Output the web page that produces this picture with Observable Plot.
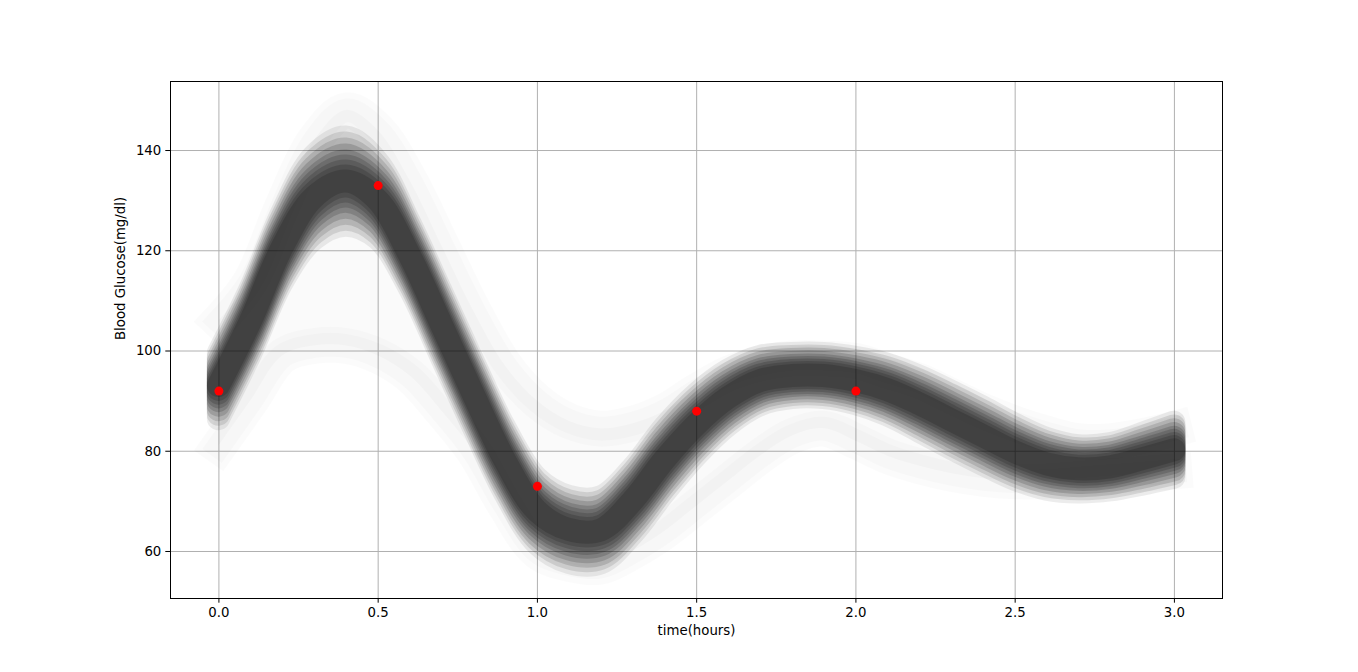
<!DOCTYPE html>
<html>
<head>
<meta charset="utf-8">
<script src="https://cdn.jsdelivr.net/npm/d3@7"></script>
<script src="https://cdn.jsdelivr.net/npm/@observablehq/plot@0.6"></script>
<style>html,body{margin:0;padding:0;background:#fff}</style>
</head>
<body>
<div id="chart"></div>
<script>
const hours = [0, 0.1, 0.2, 0.3, 0.4, 0.5, 0.6, 0.7, 0.8, 0.9, 1.0, 1.1, 1.2, 1.3, 1.4, 1.5, 1.6, 1.7, 1.8, 1.9, 2.0, 2.1, 2.2, 2.3, 2.4, 2.5, 2.6, 2.7, 2.8, 2.9, 3.0];
const meanGlucose = [93, 105.8, 120.6, 130.6, 133.8, 130, 119, 105.2, 91.3, 78, 68, 64.3, 64.2, 70, 78.2, 85.2, 90.6, 94, 95, 95, 94, 92.2, 89.4, 86.2, 83, 79.8, 77.4, 76.4, 76.8, 78.4, 80.2];
const spreadGlucose = [3, 3, 3.2, 3.8, 4, 3.5, 3, 3, 3, 3, 3, 3, 3, 3, 3, 2.8, 2.5, 2.2, 2, 2, 2.1, 2.3, 2.5, 2.6, 2.6, 2.5, 2.3, 2.1, 2.1, 2.3, 2.5];
const upperGlucose = [106, 114, 129, 142, 148, 144, 134, 121, 108, 97, 90, 86, 84.5, 85.5, 88, 92, 95.5, 97.5, 98.5, 98.5, 98, 96, 94, 91, 88, 85.5, 83.5, 82, 82, 83, 84.5];
const lowerGlucose = [81, 90, 99, 101, 101, 99, 95, 88, 80, 69, 60, 57.5, 57, 60, 64, 69, 74, 79, 83, 84.5, 82, 79, 77, 75.5, 74.5, 74, 74, 74.5, 75, 75.5, 76];
const obsHours = [0, 0.5, 1.0, 1.5, 2.0];
const obsGlucose = [92, 133, 73, 88, 92];
const xTicks = [0, 0.5, 1, 1.5, 2, 2.5, 3];
const yTicks = [60, 80, 100, 120, 140];

const rows = hours.map((h, i) => ({h, mean: meanGlucose[i], sd: spreadGlucose[i], hi: upperGlucose[i], lo: lowerGlucose[i]}));
const obs = obsHours.map((h, i) => ({h, g: obsGlucose[i]}));

// stacked translucent bands (spread multiple, group opacity) that give the soft sample band
const bandLayers = [[2.2, 0.07], [1.9, 0.1], [1.6, 0.12], [1.3, 0.14], [1.0, 0.15], [0.75, 0.15], [0.5, 0.15], [0.25, 0.15], [0, 0.15]];
const bandStroke = 23;
const lineOpts = {x: "h", curve: "catmull-rom", stroke: "black", strokeLinecap: "square", strokeLinejoin: "round"};

const chart = Plot.plot({
  width: 1358,
  height: 672,
  marginLeft: 170,
  marginRight: 136,
  marginTop: 81,
  marginBottom: 74,
  style: {fontFamily: "'DejaVu Sans', sans-serif", fontSize: "13.3px", background: "white", color: "black"},
  x: {domain: [-0.152, 3.151]},
  y: {domain: [50.62, 153.77]},
  marks: [
    Plot.gridX(xTicks, {stroke: "#b0b0b0", strokeOpacity: 1, strokeWidth: 1}),
    Plot.gridY(yTicks, {stroke: "#b0b0b0", strokeOpacity: 1, strokeWidth: 1}),
    Plot.areaY(rows, {x: "h", y1: "lo", y2: "hi", curve: "catmull-rom", fill: "black", fillOpacity: 0.018}),
    ...[36, 24].map(w => Plot.line(rows, {...lineOpts, y: "hi", strokeWidth: w, strokeOpacity: 0.014})),
    ...[36, 24].map(w => Plot.line(rows, {...lineOpts, y: "lo", strokeWidth: w, strokeOpacity: 0.014})),
    ...bandLayers.map(([k, o]) => Plot.areaY(rows, {
      x: "h",
      y1: d => d.mean - k * d.sd,
      y2: d => d.mean + k * d.sd,
      curve: "catmull-rom",
      fill: "black",
      stroke: "black",
      strokeWidth: bandStroke,
      strokeLinejoin: "round",
      opacity: o
    })),
    Plot.dot(obs, {x: "h", y: "g", r: 4.5, fill: "red", stroke: "none"}),
    Plot.frame({stroke: "black", strokeWidth: 1}),
    Plot.axisX(xTicks, {tickFormat: d => d.toFixed(1), tickSize: 4.7, tickPadding: 4.5, label: null, fontSize: 13.3}),
    Plot.axisY(yTicks, {tickFormat: d => String(d), tickSize: 4.7, tickPadding: 4.5, label: null, fontSize: 13.3}),
    Plot.text(["time(hours)"], {text: d => d, frameAnchor: "bottom", dy: 36, fontSize: 13.3}),
    Plot.text(["Blood Glucose(mg/dl)"], {text: d => d, frameAnchor: "left", dx: -50, rotate: -90, fontSize: 13.3})
  ]
});
document.getElementById("chart").appendChild(chart);
</script>
</body>
</html>
